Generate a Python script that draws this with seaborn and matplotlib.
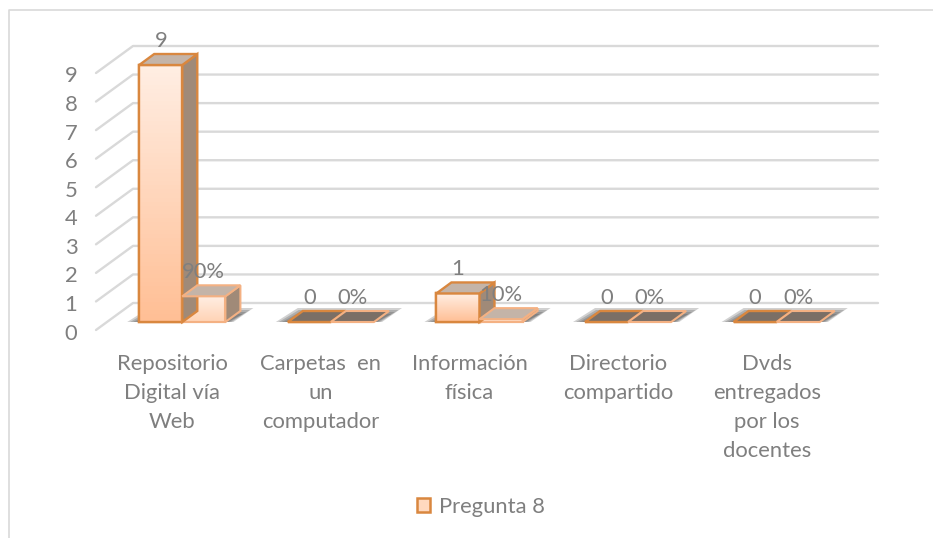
import numpy as np
import pandas as pd
import matplotlib
matplotlib.use('Agg')
import matplotlib.pyplot as plt
from matplotlib.patches import Polygon
from matplotlib.transforms import ScaledTranslation
import seaborn as sns

categories = ['Repositorio\nDigital vía\nWeb', 'Carpetas  en\nun\ncomputador', 'Información\nfísica',
              'Directorio\ncompartido', 'Dvds\nentregados\npor los\ndocentes']
counts = [9, 0, 1, 0, 0]
shares = [0.9, 0, 0.1, 0, 0]
share_labels = ['90%', '0%', '10%', '0%', '0%']
y_ticks = list(range(10))
legend_label = 'Pregunta 8'

sns.set_theme(style='white')
plt.rcParams['font.family'] = ['Lato', 'DejaVu Sans']

W, H = 933, 538
FS = 15.8
fig = plt.figure(figsize=(W / 100, H / 100), dpi=100)
# axes is the front plane of the fake 3d box, pixels worked out from the picture
left, right, top, bottom = 108, 851, 65, 322
ax = fig.add_axes([left / W, 1 - bottom / H, (right - left) / W, (bottom - top) / H])

df = pd.DataFrame({'cat': categories * 2, 'val': counts + shares,
                   'serie': ['n'] * 5 + ['p'] * 5})
sns.barplot(data=df, x='cat', y='val', hue='serie', dodge=True, width=0.58, gap=0,
            palette=['#ffd9bf', '#ffe3d0'], legend=False, ax=ax, zorder=3)
ax.set_xlim(-0.5, 4.5)
ax.set_ylim(0, 9)
ax.patch.set_alpha(0)
sns.despine(ax=ax, left=True, bottom=True, top=True, right=True)
ax.set_xlabel('')
ax.set_ylabel('')

# grid runs from the front left corner, back, then along the wall
for t in y_ticks:
    y = ax.transData.transform((0, t))[1]
    fig.add_artist(plt.Line2D([96 / W, 133 / W, 878 / W], [(y - 8) / H, (y + 19) / H, (y + 19) / H],
                              color='#d9d9d9', lw=1.7, zorder=0))

ax.set_yticks(y_ticks)
ax.set_yticklabels(y_ticks, fontsize=FS, color='#7f7f7f')
ax.tick_params(axis='y', length=0, pad=22)
for lab in ax.get_yticklabels():
    lab.set_transform(lab.get_transform() + ScaledTranslation(0, -9.5 / 100, fig.dpi_scale_trans))

ax.set_xticks(range(5))
ax.set_xticklabels(categories, fontsize=FS, color='#7f7f7f', linespacing=1.57)
ax.tick_params(axis='x', length=0, pad=23)
for lab in ax.get_xticklabels():
    lab.set_transform(lab.get_transform() + ScaledTranslation(-10 / 100, 0, fig.dpi_scale_trans))

grad = np.linspace(0, 1, 64).reshape(-1, 1)
front1 = matplotlib.colors.LinearSegmentedColormap.from_list('a', ['#ffeee3', '#ffbf95'])
front2 = matplotlib.colors.LinearSegmentedColormap.from_list('b', ['#ffeee3', '#ffd3b5'])
bars = list(ax.patches)
edges = ['#d9873f'] * 5 + ['#f4b183'] * 5
xs = (ax.get_xlim()[1] - ax.get_xlim()[0]) / (right - left)
ys = 9 / (bottom - top)
ddx, ddy = 15 * xs, 11 * ys

# floor shadow under each pair of bars, layered so it fades out
for i in range(5):
    x0 = bars[i].get_x()
    x1 = bars[i + 5].get_x() + bars[i + 5].get_width()
    for g in [1.0, 0.75, 0.5, 0.25]:
        ax.add_patch(Polygon([(x0 - 12 * g * xs, 0), (x1 + 8 * g * xs, 0), (x1 + (14 + 14 * g) * xs, (6 + 8 * g) * ys),
                              (x0 + (14 - 4 * g) * xs, (6 + 8 * g) * ys)], closed=True, fc='#4a4a4a', ec='none',
                             alpha=0.25, zorder=1, clip_on=False))

for k, (p, ec) in enumerate(zip(bars, edges)):
    x0, w, h = p.get_x(), p.get_width(), p.get_height()
    x1 = x0 + w
    lw = 1.7 if k < 5 else 1.5
    p.set_edgecolor(ec)
    p.set_linewidth(lw)
    p.set_clip_on(False)
    if h > 0:
        im = ax.imshow(grad, extent=(x0, x1, 0, h), aspect='auto', zorder=3.1,
                       cmap=front1 if k < 5 else front2)
        im.set_clip_path(p)
        ax.add_patch(Polygon([(x0, 0), (x1, 0), (x1, h), (x0, h)], closed=True, fc='none', ec=ec, lw=lw,
                             zorder=3.15, clip_on=False))
        ax.add_patch(Polygon([(x1, 0), (x1 + ddx, ddy), (x1 + ddx, h + ddy), (x1, h)], closed=True,
                             fc='#a08a78', ec=ec, lw=lw, zorder=3.2, clip_on=False))
    top_col = '#c4b4a8' if h > 0 else '#7b6f66'
    ax.add_patch(Polygon([(x0, h), (x1, h), (x1 + ddx, h + ddy), (x0 + ddx, h + ddy)], closed=True,
                         fc=top_col, ec=ec, lw=lw, zorder=3.3, clip_on=False))
ax.set_xlim(-0.5, 4.5)
ax.set_ylim(0, 9)

# data labels
for i, (c, s, sl) in enumerate(zip(counts, shares, share_labels)):
    b1, b2 = bars[i], bars[i + 5]
    ax.annotate(str(c), (b1.get_x() + b1.get_width() / 2, c), xytext=(0, 18), textcoords='offset pixels',
                ha='center', va='baseline', fontsize=FS, color='#7f7f7f', zorder=5, annotation_clip=False)
    ax.annotate(sl, (b2.get_x() + b2.get_width() / 2, s), xytext=(0, 18), textcoords='offset pixels',
                ha='center', va='baseline', fontsize=FS, color='#7f7f7f', zorder=5, annotation_clip=False)

# legend
handle = plt.Rectangle((0, 0), 1, 1, fc='#ffd9bf', ec='#d9873f', lw=1.8)
fig.legend([handle], [legend_label], loc='center', bbox_to_anchor=(481 / W, 1 - 507 / H), frameon=False,
           fontsize=FS, labelcolor='#7f7f7f', handlelength=0.62, handleheight=0.62, handletextpad=0.4)

# outer chart border
fig.add_artist(plt.Line2D([8.5 / W, 8.5 / W, 1], [0, 1 - 10 / H, 1 - 10 / H], color='#d9d9d9', lw=1.2))

fig.savefig('out.png', dpi=100)
